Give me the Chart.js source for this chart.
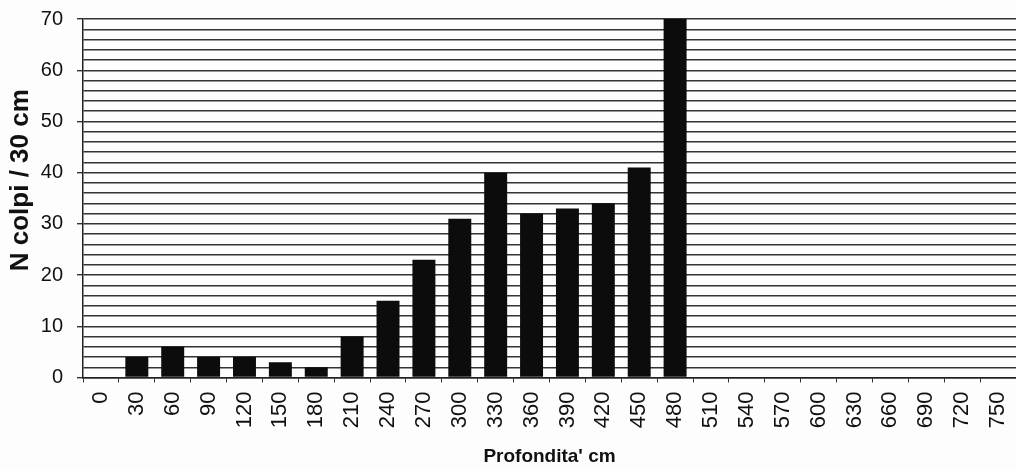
<!DOCTYPE html>
<html>
<head>
<meta charset="utf-8">
<script src="https://cdn.jsdelivr.net/npm/chart.js@4/dist/chart.umd.min.js"></script>
<style>
  html, body { margin: 0; padding: 0; background: #fdfdfd; }
  #wrap { width: 1016px; height: 470px; }
</style>
</head>
<body>
<div id="wrap"><canvas id="chart1"></canvas></div>
<script>
// depth classes (cm)
var depths = ['0', '30', '60', '90', '120', '150', '180', '210', '240', '270', '300', '330', '360',
    '390', '420', '450', '480', '510', '540', '570', '600', '630', '660', '690', '720', '750'];
// blows per 30 cm
var blows = [0, 4, 6, 4, 4, 3, 2, 8, 15, 23, 31, 40, 32, 33, 34, 41, 70,
    null, null, null, null, null, null, null, null, null];

var ctx1 = document.getElementById('chart1').getContext('2d');
var chart1 = new Chart(ctx1, {
    type: 'bar',
    data: {
        labels: depths,
        datasets: [{
            label: 'N colpi',
            data: blows,
            backgroundColor: '#0c0c0c',
            borderWidth: 0,
            barPercentage: 0.64,
            categoryPercentage: 1
        }]
    },
    options: {
        responsive: true,
        maintainAspectRatio: false,
        animation: false,
        layout: { padding: { top: 19, right: 0, left: 2, bottom: 2 } },
        plugins: {
            legend: { display: false },
            tooltip: { enabled: false }
        },
        scales: {
            x: {
                afterFit: function (s) { s.paddingRight = 0; s.paddingLeft = 0; },
                grid: {
                    drawOnChartArea: false,
                    drawTicks: true,
                    tickLength: 5,
                    color: '#333'
                },
                border: { color: '#222', width: 1.5 },
                ticks: {
                    color: '#111',
                    minRotation: 90,
                    maxRotation: 90,
                    autoSkip: false,
                    padding: 9,
                    font: { family: 'Liberation Sans, Arial', size: 22 }
                },
                title: {
                    display: true,
                    text: "Profondita' cm",
                    color: '#111',
                    padding: { top: 8, bottom: 0 },
                    font: { family: 'Liberation Sans, Arial', size: 19, weight: 'bold' }
                }
            },
            y: {
                min: 0,
                max: 70,
                afterFit: function (s) { s.width = 81; s.paddingTop = 0; s.paddingBottom = 0; },
                grid: {
                    color: '#333',
                    lineWidth: 1.4,
                    tickLength: 6,
                    tickColor: function (c) {
                        return c.tick && c.tick.value % 10 === 0 ? '#333' : 'rgba(0,0,0,0)';
                    }
                },
                border: { color: '#222', width: 1.5 },
                ticks: {
                    stepSize: 2,
                    autoSkip: false,
                    color: '#111',
                    padding: 14,
                    font: { family: 'Liberation Sans, Arial', size: 20 },
                    callback: function (v) { return v % 10 === 0 ? v : ''; }
                },
                title: {
                    display: true,
                    text: '     N colpi / 30 cm',
                    color: '#111',
                    padding: { top: 3, bottom: 0 },
                    font: { family: 'Liberation Sans, Arial', size: 26, weight: 'bold' }
                }
            }
        }
    }
});
</script>
</body>
</html>
